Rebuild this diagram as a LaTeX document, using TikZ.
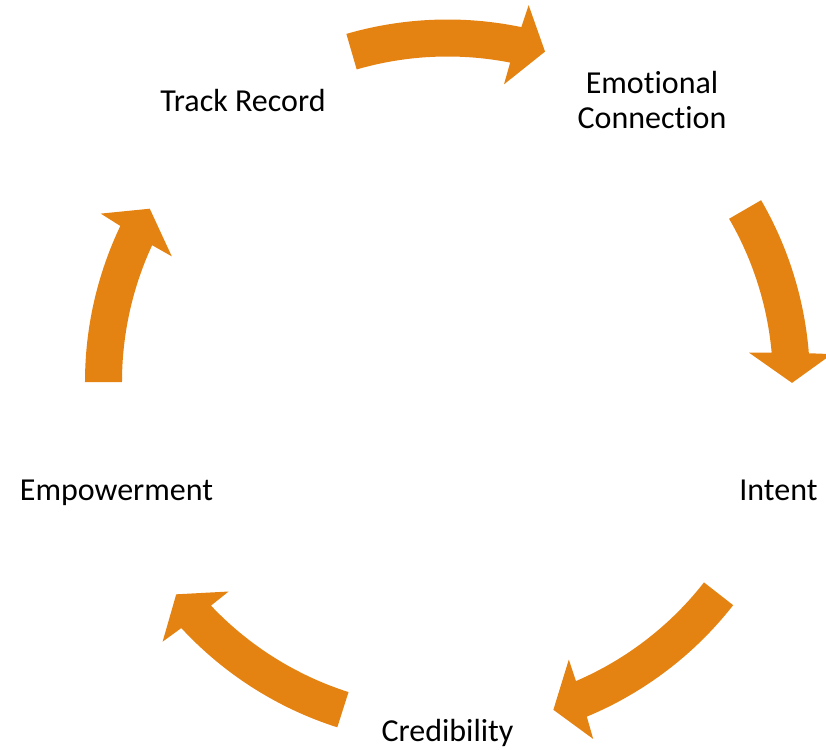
\documentclass[tikz,border=0pt]{standalone}
\usepackage{fontspec}
\setmainfont{Carlito}[Ligatures={NoCommon}]
\definecolor{cycleorange}{RGB}{229,131,18}
\begin{document}
\begin{tikzpicture}[x=1pt,y=1pt,
  label/.style={font=\fontsize{32}{35}\selectfont, align=center, text=black, inner sep=0pt},
  oneline/.style={label, text height=22pt, text depth=0pt},
  cyclearrow/.style={fill=cycleorange, draw=none}]
\useasboundingbox (-447.5,-367) rectangle (378.5,382);
% curved block arrow along the ring: #1 = tail angle, #2 = angle of the head base
\newcommand{\ringarrow}[2]{%
  \pgfmathsetmacro{\ho}{#2-0.3}%
  \pgfmathsetmacro{\hi}{#2+0.35}%
  \pgfmathsetmacro{\bo}{#2-0.7}%
  \pgfmathsetmacro{\bi}{#2+0.7}%
  \pgfmathsetmacro{\tp}{#2-5}%
  \fill[cyclearrow] (#1:362.5) arc[start angle=#1, end angle=\ho, radius=362.5]
    -- (\bo:385.5) -- (\tp:344.5) -- (\bi:303) -- (\hi:325.5)
    arc[start angle=\hi, end angle=#1, radius=325.5] -- cycle;}
% step labels
\node[oneline] (track) at (126:348) {Track Record};
\node[label] (emot)  at (54:348)  {Emotional\\Connection};
\node[oneline] (intent) at (-18:348) {Intent};
\node[oneline] (cred)  at (-90:348) {Credibility};
\node[oneline] (empow) at (198:348) {Empowerment};
% arrows between consecutive steps
\ringarrow{106.2}{78.55}
\ringarrow{30.1}{4.85}
\ringarrow{-38}{-67.1}
\ringarrow{252.3}{223.05}
\ringarrow{180}{154.8}
\end{tikzpicture}
\end{document}
